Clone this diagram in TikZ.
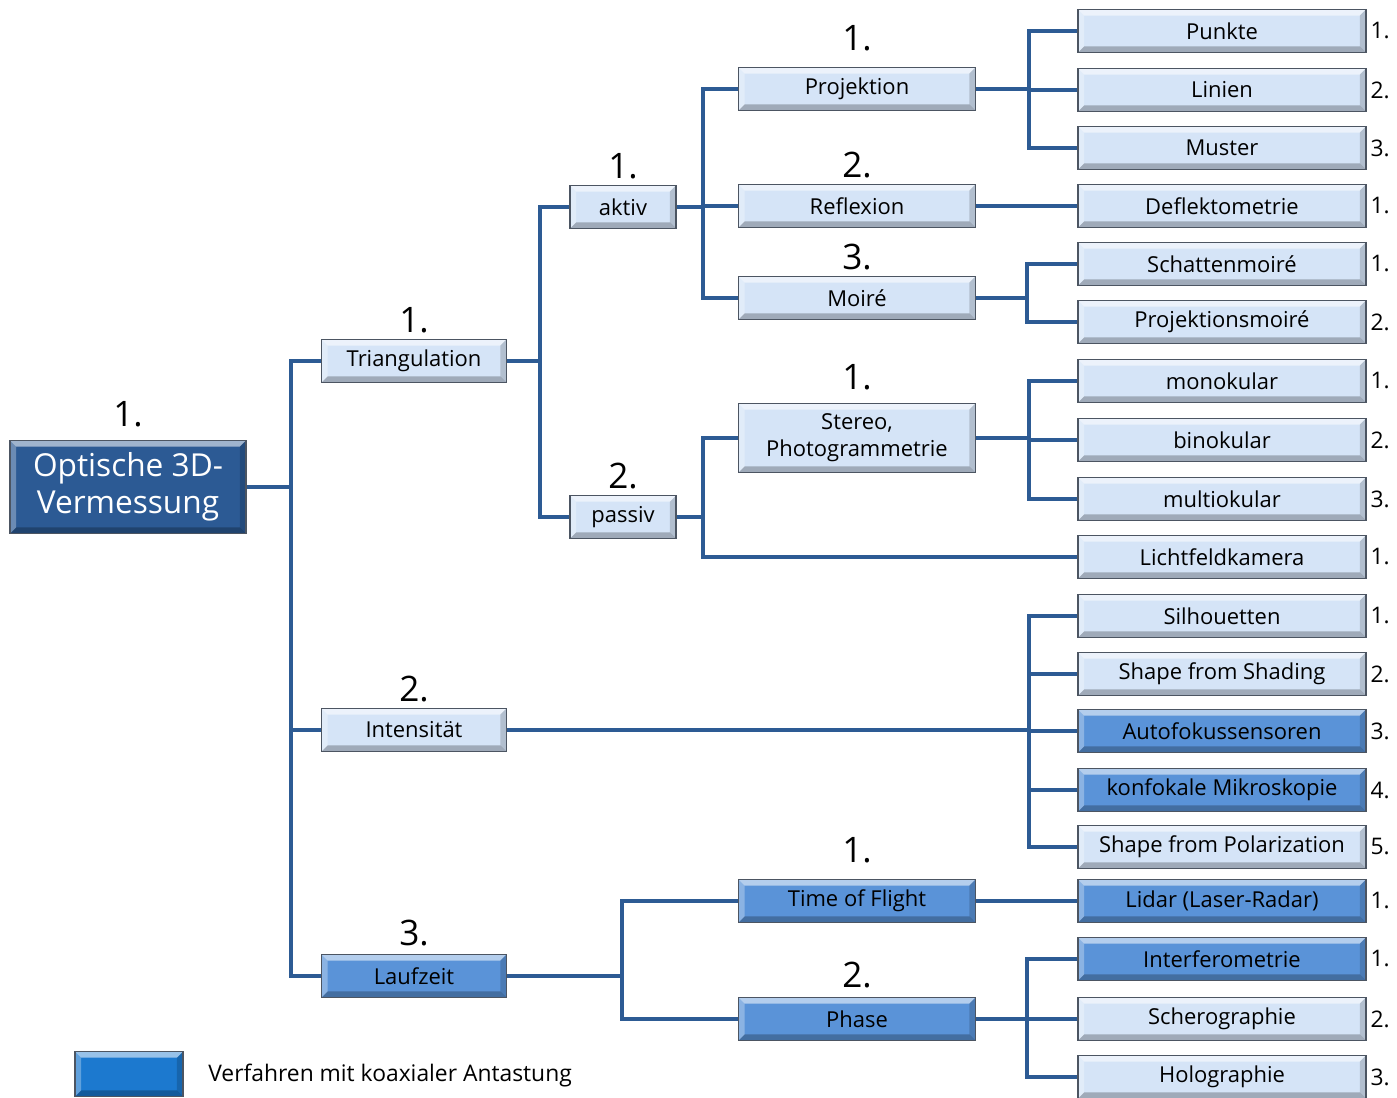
\documentclass[tikz,border=0pt]{standalone}
\usepackage{fontspec}
\setmainfont{Open Sans}
\usepackage{tikz}
\usetikzlibrary{positioning, calc}

\definecolor{boxlight}{HTML}{D5E4F7}
\definecolor{boxdark}{HTML}{5A93D8}
\definecolor{boxroot}{HTML}{2C5A94}
\definecolor{boxlegend}{HTML}{1C79CF}
\definecolor{linec}{HTML}{2D5B94}
\definecolor{edgec}{HTML}{4C5562}

\tikzset{
    bevel/.style={path picture={
        \fill[white, opacity=.55] (path picture bounding box.north west) -- (path picture bounding box.north east) -- ([shift={(-3.5pt,-3.5pt)}]path picture bounding box.north east) -- ([shift={(3.5pt,-3.5pt)}]path picture bounding box.north west) -- cycle;
        \fill[white, opacity=.3] (path picture bounding box.north west) -- (path picture bounding box.south west) -- ([shift={(3.5pt,3.5pt)}]path picture bounding box.south west) -- ([shift={(3.5pt,-3.5pt)}]path picture bounding box.north west) -- cycle;
        \fill[black, opacity=.25] (path picture bounding box.south west) -- (path picture bounding box.south east) -- ([shift={(-3.5pt,3.5pt)}]path picture bounding box.south east) -- ([shift={(3.5pt,3.5pt)}]path picture bounding box.south west) -- cycle;
        \fill[black, opacity=.16] (path picture bounding box.north east) -- (path picture bounding box.south east) -- ([shift={(-3.5pt,3.5pt)}]path picture bounding box.south east) -- ([shift={(-3.5pt,-3.5pt)}]path picture bounding box.north east) -- cycle;
    }}
}

\begin{document}
\begin{tikzpicture}[x=0.02cm, y=-0.02cm,
        box/.style={rectangle, draw=edgec, line width=0.9pt, fill=boxlight, bevel, minimum height=0.86cm, inner sep=2pt, align=center, font=\fontsize{12.5}{15.5}\selectfont},
        leaf/.style={box, minimum width=5.76cm},
        method/.style={box, minimum width=4.74cm},
        group/.style={box, minimum width=3.7cm},
        kind/.style={box, minimum width=2.12cm},
        coax/.style={fill=boxdark},
        tnum/.style={font=\fontsize{20}{24}\selectfont, inner sep=0pt, label distance=3pt},
        rnum/.style={font=\fontsize{13}{15}\selectfont, inner sep=0pt, label distance=2pt},
        line/.style={draw=linec, line width=1.8pt}
    ]
        \useasboundingbox (0, 0) rectangle (1397, 1098);
        % Root
        \node (root) [box, fill=boxroot, text=white, minimum width=4.72cm, minimum height=1.86cm, font=\fontsize{18}{21}\selectfont, label={[tnum, label distance=7pt]north:1.}] at (128, 487) {Optische 3D-\\Vermessung};
        % Principles
        \node (tri) [group, label={[tnum]north:1.}] at (414, 361) {Triangulation};
        \node (int) [group, label={[tnum]north:2.}] at (414, 730) {Intensität};
        \node (lauf) [group, coax, label={[tnum, label distance=4pt]north:3.}] at (414, 976) {Laufzeit};
        % Triangulation
        \node (aktiv) [kind, label={[tnum]north:1.}] at (623, 207) {aktiv};
        \node (passiv) [kind, label={[tnum]north:2.}] at (623, 517) {passiv};
        \node (proj) [method, label={[tnum, label distance=9pt]north:1.}] at (857, 89) {Projektion};
        \node (refl) [method, label={[tnum]north:2.}] at (857, 206) {Reflexion};
        \node (moire) [method, label={[tnum]north:3.}] at (857, 298) {Moiré};
        \node (stereo) [method, minimum height=1.38cm, label={[tnum, label distance=7pt]north:1.}] at (857, 438) {Stereo,\\Photogrammetrie};
        % Laufzeit
        \node (tof) [method, coax, label={[tnum, label distance=9pt]north:1.}] at (857, 901) {Time of Flight};
        \node (phase) [method, coax, label={[tnum, label distance=5pt]north:2.}] at (857, 1019) {Phase};
        % Leaves
        \node (punkte) [leaf, label={[rnum]east:1.}] at (1222, 31) {Punkte};
        \node (linien) [leaf, label={[rnum]east:2.}] at (1222, 90) {Linien};
        \node (muster) [leaf, label={[rnum]east:3.}] at (1222, 148) {Muster};
        \node (defl) [leaf, label={[rnum]east:1.}] at (1222, 206) {Deflektometrie};
        \node (schatten) [leaf, label={[rnum]east:1.}] at (1222, 264) {Schattenmoiré};
        \node (projm) [leaf, label={[rnum]east:2.}] at (1222, 322) {Projektionsmoiré};
        \node (mono) [leaf, label={[rnum]east:1.}] at (1222, 381) {monokular};
        \node (bino) [leaf, label={[rnum]east:2.}] at (1222, 440) {binokular};
        \node (multi) [leaf, label={[rnum]east:3.}] at (1222, 499) {multiokular};
        \node (licht) [leaf, label={[rnum]east:1.}] at (1222, 557) {Lichtfeldkamera};
        \node (silh) [leaf, label={[rnum]east:1.}] at (1222, 616) {Silhouetten};
        \node (sfs) [leaf, label={[rnum]east:2.}] at (1222, 674) {Shape from Shading};
        \node (auto) [leaf, coax, label={[rnum]east:3.}] at (1222, 731) {Autofokussensoren};
        \node (konf) [leaf, coax, label={[rnum]east:4.}] at (1222, 790) {konfokale Mikroskopie};
        \node (sfp) [leaf, label={[rnum]east:5.}] at (1222, 847) {Shape from Polarization};
        \node (lidar) [leaf, coax, label={[rnum]east:1.}] at (1222, 901) {Lidar (Laser-Radar)};
        \node (interf) [leaf, coax, label={[rnum]east:1.}] at (1222, 959) {Interferometrie};
        \node (scher) [leaf, label={[rnum]east:2.}] at (1222, 1019) {Scherographie};
        \node (holo) [leaf, label={[rnum]east:3.}] at (1222, 1077) {Holographie};
        % Legend
        \node (legbox) [box, fill=boxlegend, minimum width=2.16cm, minimum height=0.9cm] at (129, 1074) {};
        \node (legtext) [anchor=west, font=\fontsize{13}{15}\selectfont, inner sep=0pt] at (208, 1075) {Verfahren mit koaxialer Antastung};
        % Bus points
        \coordinate (b0) at (291, 487);
        \coordinate (b1) at (540, 361);
        \coordinate (b2) at (703, 207);
        \coordinate (b3) at (703, 517);
        \coordinate (b4) at (1029, 89);
        \coordinate (b5) at (1027, 298);
        \coordinate (b6) at (1029, 438);
        \coordinate (b7) at (1029, 730);
        \coordinate (b8) at (622, 976);
        \coordinate (b9) at (1027, 1019);
        % Root lines
        \draw [line] (root) -- (b0);
        \draw [line] (b0) |- (tri);
        \draw [line] (b0) |- (int);
        \draw [line] (b0) |- (lauf);
        % Triangulation lines
        \draw [line] (tri) -- (b1);
        \draw [line] (b1) |- (aktiv);
        \draw [line] (b1) |- (passiv);
        \draw [line] (aktiv) -- (b2);
        \draw [line] (b2) |- (proj);
        \draw [line] (b2) |- (refl);
        \draw [line] (b2) |- (moire);
        \draw [line] (passiv) -- (b3);
        \draw [line] (b3) |- (stereo);
        \draw [line] (b3) |- (licht);
        \draw [line] (proj) -- (b4);
        \draw [line] (b4) |- (punkte);
        \draw [line] (b4) |- (linien);
        \draw [line] (b4) |- (muster);
        \draw [line] (refl) -- (defl);
        \draw [line] (moire) -- (b5);
        \draw [line] (b5) |- (schatten);
        \draw [line] (b5) |- (projm);
        \draw [line] (stereo) -- (b6);
        \draw [line] (b6) |- (mono);
        \draw [line] (b6) |- (bino);
        \draw [line] (b6) |- (multi);
        % Intensity lines
        \draw [line] (int) -- (b7);
        \draw [line] (b7) |- (silh);
        \draw [line] (b7) |- (sfs);
        \draw [line] (b7) |- (auto);
        \draw [line] (b7) |- (konf);
        \draw [line] (b7) |- (sfp);
        % Laufzeit lines
        \draw [line] (lauf) -- (b8);
        \draw [line] (b8) |- (tof);
        \draw [line] (b8) |- (phase);
        \draw [line] (tof) -- (lidar);
        \draw [line] (phase) -- (b9);
        \draw [line] (b9) |- (interf);
        \draw [line] (b9) |- (scher);
        \draw [line] (b9) |- (holo);
    \end{tikzpicture}
\end{document}
